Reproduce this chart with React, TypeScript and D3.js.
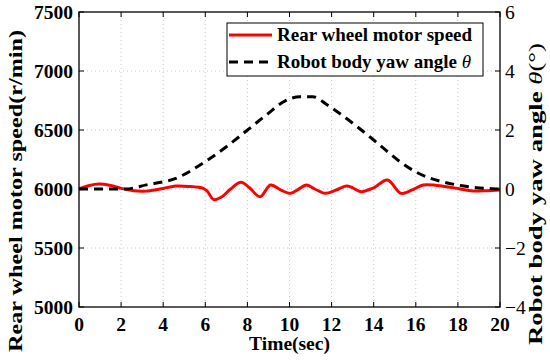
import React from "react";
import * as d3 from "d3";

const W = 550;
const H = 361;
const MARGIN = { top: 12, right: 50, bottom: 54, left: 79 };

// rear wheel motor speed (r/min)
const speedTime = [0, 0.5, 0.95, 1.5, 2.0, 2.6, 3.2, 4.0, 4.6, 5.2, 5.9, 6.1, 6.4, 6.8, 7.2, 7.7, 8.1, 8.6, 9.1, 9.6, 10.05, 10.4, 10.8, 11.2, 11.7, 12.2, 12.7, 13.0, 13.4, 14.0, 14.65, 15.3, 15.8, 16.35, 17.0, 18.0, 18.6, 19.3, 20];
const speedValues = [6000, 6030, 6042, 6030, 6005, 5985, 5982, 6005, 6025, 6022, 6005, 5980, 5910, 5935, 6000, 6057, 6010, 5935, 6034, 5990, 5963, 5995, 6034, 6000, 5963, 5990, 6025, 6010, 5977, 6010, 6076, 5963, 5990, 6034, 6030, 6005, 5986, 5985, 5992];

// robot body yaw angle (deg)
const yawTime = [0, 1, 2.2, 3.2, 4.6, 6.0, 7.0, 7.9, 8.9, 9.8, 10.5, 11.1, 11.8, 12.5, 13.2, 13.9, 14.6, 15.3, 16.0, 16.7, 17.4, 18.2, 18.9, 19.6, 20];
const yawValues = [0, 0, 0, 0.14, 0.36, 0.93, 1.43, 1.94, 2.51, 2.99, 3.13, 3.13, 2.85, 2.5, 2.12, 1.72, 1.3, 0.9, 0.58, 0.36, 0.22, 0.11, 0.04, 0.01, 0.0];

const xTicks = [0, 2, 4, 6, 8, 10, 12, 14, 16, 18, 20];
const leftTicks = [5000, 5500, 6000, 6500, 7000, 7500];
const rightTicks = [-4, -2, 0, 2, 4, 6];

const SERIF = "'Liberation Serif', 'Times New Roman', serif";

export default function App() {
  const x0 = MARGIN.left;
  const x1 = W - MARGIN.right;
  const y0 = MARGIN.top;
  const y1 = H - MARGIN.bottom;

  const xScale = d3.scaleLinear().domain([0, 20]).range([x0, x1]);
  const yLeft = d3.scaleLinear().domain([5000, 7500]).range([y1, y0]);
  const yRight = d3.scaleLinear().domain([-4, 6]).range([y1, y0]);

  const speedLine = d3
    .line<number>()
    .x((_, i) => xScale(speedTime[i]))
    .y((d) => yLeft(d))
    .curve(d3.curveCatmullRom.alpha(0.5));

  const yawLine = d3
    .line<number>()
    .x((_, i) => xScale(yawTime[i]))
    .y((d) => yRight(d))
    .curve(d3.curveMonotoneX);

  const fmtMinus = (v: number) => (v < 0 ? "\u2212" + Math.abs(v) : String(v));

  return (
    <svg width={W} height={H} style={{ position: "absolute", left: 0, top: 0, background: "#fff" }}>
      {/* grid */}
      <g stroke="#c8c8c8" strokeWidth={1} strokeDasharray="1,3">
        {xTicks.slice(1, -1).map((t) => (
          <line key={"gx" + t} x1={xScale(t)} x2={xScale(t)} y1={y0} y2={y1} />
        ))}
        {leftTicks.slice(1, -1).map((t) => (
          <line key={"gy" + t} x1={x0} x2={x1} y1={yLeft(t)} y2={yLeft(t)} />
        ))}
      </g>

      {/* series */}
      <path d={speedLine(speedValues) || ""} fill="none" stroke="#ff0000" strokeWidth={3} />
      <path d={yawLine(yawValues) || ""} fill="none" stroke="#000" strokeWidth={3} strokeDasharray="9,6" />

      {/* frame and ticks */}
      <rect x={x0} y={y0} width={x1 - x0} height={y1 - y0} fill="none" stroke="#000" strokeWidth={1.3} />
      <g stroke="#000" strokeWidth={1}>
        {xTicks.map((t) => (
          <g key={"tx" + t}>
            <line x1={xScale(t)} x2={xScale(t)} y1={y1} y2={y1 - 5} />
            <line x1={xScale(t)} x2={xScale(t)} y1={y0} y2={y0 + 5} />
          </g>
        ))}
        {leftTicks.map((t) => (
          <line key={"tl" + t} x1={x0} x2={x0 + 5} y1={yLeft(t)} y2={yLeft(t)} />
        ))}
        {rightTicks.map((t) => (
          <line key={"tr" + t} x1={x1} x2={x1 - 5} y1={yRight(t)} y2={yRight(t)} />
        ))}
      </g>

      {/* tick labels */}
      <g fontFamily={SERIF} fontWeight="bold" fontSize={19.5} fill="#000">
        {xTicks.map((t) => (
          <text key={"lx" + t} x={xScale(t)} y={y1 + 24} textAnchor="middle">
            {t}
          </text>
        ))}
        {leftTicks.map((t) => (
          <text key={"ll" + t} x={x0 - 6} y={yLeft(t)} dy="0.35em" textAnchor="end">
            {t}
          </text>
        ))}
      </g>
      <g fontFamily={SERIF} fontSize={19.5} fill="#000">
        {rightTicks.map((t) => (
          <text key={"lr" + t} x={x1 + 5} y={yRight(t)} dy="0.35em" textAnchor="start">
            {fmtMinus(t)}
          </text>
        ))}
      </g>

      {/* axis titles */}
      <text
        x={(x0 + x1) / 2}
        y={350}
        textAnchor="middle"
        fontFamily={SERIF}
        fontWeight="bold"
        fontSize={19.5}
      >
        Time(sec)
      </text>
      <text
        transform={`translate(22,${191}) rotate(-90)`}
        textAnchor="middle"
        fontFamily={SERIF}
        fontWeight="bold"
        fontSize={18}
        textLength={322}
        lengthAdjust="spacingAndGlyphs"
      >
        Rear wheel motor speed(r/min)
      </text>
      <text
        transform={`translate(542,${194}) rotate(-90)`}
        textAnchor="middle"
        fontFamily={SERIF}
        fontWeight="bold"
        fontSize={18}
        textLength={302}
        lengthAdjust="spacingAndGlyphs"
      >
        Robot body yaw angle <tspan fontStyle="italic" fontWeight="normal">θ</tspan>
        <tspan fontWeight="normal">(°)</tspan>
      </text>

      {/* legend */}
      <g>
        <rect x={227} y={23} width={256} height={53} fill="#fff" stroke="#000" strokeWidth={1} />
        <line x1={229} x2={272} y1={35} y2={35} stroke="#ff0000" strokeWidth={3} />
        <line x1={229} x2={272} y1={62} y2={62} stroke="#000" strokeWidth={3} strokeDasharray="9,6" />
        <g fontFamily={SERIF} fontWeight="bold" fontSize={19}>
          <text x={277} y={41}>Rear wheel motor speed</text>
          <text x={277} y={68}>
            Robot body yaw angle <tspan fontStyle="italic" fontWeight="normal">θ</tspan>
          </text>
        </g>
      </g>
    </svg>
  );
}
